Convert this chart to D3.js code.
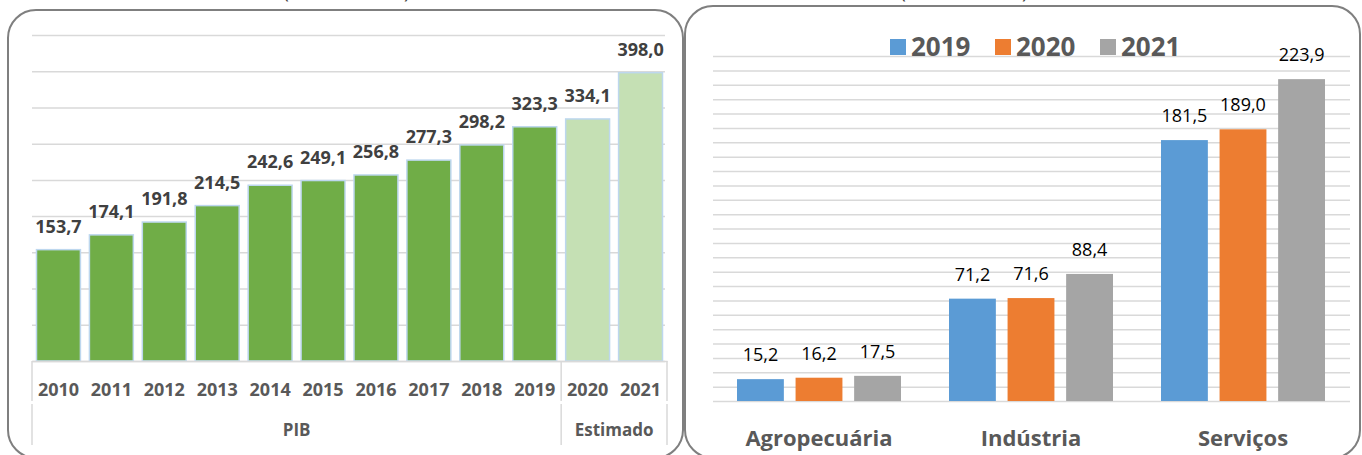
<!DOCTYPE html>
<html>
<head>
<meta charset="utf-8">
<style>
body { margin: 0; background: #fff; }
svg { display: block; font-family: "Open Sans", sans-serif; }
.grid line { stroke: #d9d9d9; stroke-width: 1.5; }
.grid .domain { display: none; }
</style>
</head>
<body>
<svg width="1362" height="455"></svg>
<script src="https://cdnjs.cloudflare.com/ajax/libs/d3/7.8.5/d3.min.js"></script>
<script>
// left chart: PIB by year
var years = ["2010", "2011", "2012", "2013", "2014", "2015", "2016", "2017", "2018", "2019", "2020", "2021"];
var pib = [153.7, 174.1, 191.8, 214.5, 242.6, 249.1, 256.8, 277.3, 298.2, 323.3, 334.1, 398.0];
var yearGroup = ["PIB", "PIB", "PIB", "PIB", "PIB", "PIB", "PIB", "PIB", "PIB", "PIB", "Estimado", "Estimado"];
var leftTicks = [0, 50, 100, 150, 200, 250, 300, 350, 400, 450];

// right chart: value added by sector
var sectors = ["Agropecuária", "Indústria", "Serviços"];
var series = ["2019", "2020", "2021"];
var vab2019 = [15.2, 71.2, 181.5];
var vab2020 = [16.2, 71.6, 189.0];
var vab2021 = [17.5, 88.4, 223.9];
var rightTicks = d3.range(0, 241, 10);

var fmt = function(v) { return d3.format(".1f")(v).replace(".", ","); };

var svg = d3.select("svg");

// panel frames
svg.append("rect").attr("x", 8).attr("y", 10).attr("width", 675).attr("height", 448)
  .attr("rx", 28).attr("fill", "none").attr("stroke", "#7f7f7f").attr("stroke-width", 2);
svg.append("rect").attr("x", 685).attr("y", 6).attr("width", 675).attr("height", 452)
  .attr("rx", 28).attr("fill", "none").attr("stroke", "#7f7f7f").attr("stroke-width", 2);

// titles, cut off above the picture (only the brackets peek in)
svg.append("text").attr("x", 283).attr("y", -2.5).attr("font-size", 20)
  .attr("textLength", 127).attr("lengthAdjust", "spacing").attr("fill", "#404040")
  .text("(R$ bilhões)");
svg.append("text").attr("x", 900).attr("y", -2.5).attr("font-size", 20)
  .attr("textLength", 128).attr("lengthAdjust", "spacing").attr("fill", "#404040")
  .text("(R$ bilhões)");

// ---------- left chart ----------
var xL = d3.scaleBand().domain(years).range([32, 667]).paddingInner(0.17).paddingOuter(0.085);
var yL = d3.scaleLinear().domain([0, 450]).range([361, 35]);

svg.append("g")
  .attr("class", "grid")
  .attr("transform", "translate(32,0)")
  .call(d3.axisLeft(yL).tickValues(leftTicks).tickSize(-633).tickFormat(""));

svg.append("g").selectAll("rect")
  .data(pib)
  .enter().append("rect")
    .attr("x", function(d, i) { return xL(years[i]); })
    .attr("y", function(d) { return yL(d); })
    .attr("width", xL.bandwidth())
    .attr("height", function(d) { return yL(0) - yL(d); })
    .attr("fill", function(d, i) { return yearGroup[i] == "PIB" ? "#70ad47" : "#c5e0b4"; })
    .attr("stroke", "#bdd7ee")
    .attr("stroke-width", 1.5);

svg.append("g").selectAll("text")
  .data(pib)
  .enter().append("text")
    .attr("x", function(d, i) { return xL(years[i]) + xL.bandwidth() / 2; })
    .attr("y", function(d) { return yL(d) - 17; })
    .attr("text-anchor", "middle")
    .attr("font-size", 18)
    .attr("font-weight", "bold")
    .attr("fill", "#404040")
    .text(fmt);

// category axis (years + groups)
var xAxis = svg.append("g")
  .attr("transform", "translate(0,361)")
  .call(d3.axisBottom(xL).tickSize(0));
xAxis.select(".domain").attr("stroke", "#d9d9d9").attr("stroke-width", 1.5);
xAxis.selectAll("text")
  .attr("y", 35).attr("dy", null)
  .attr("font-family", "Open Sans").attr("font-size", 18)
  .attr("font-weight", "bold").attr("fill", "#595959");

var gap = (xL.step() - xL.bandwidth()) / 2;
var groupNames = [];
var groupStart = {};
var groupEnd = {};
years.forEach(function(y, i) {
  var g = yearGroup[i];
  if (groupNames.indexOf(g) < 0) { groupNames.push(g); groupStart[g] = xL(y) - gap; }
  groupEnd[g] = xL(y) + xL.bandwidth() + gap;
});
groupStart[groupNames[0]] = xL.range()[0];
groupEnd[groupNames[groupNames.length - 1]] = xL.range()[1];

var bounds = groupNames.map(function(g) { return groupStart[g]; }).concat([xL.range()[1]]);
var sepG = svg.append("g").attr("stroke", "#d9d9d9").attr("stroke-width", 1.5);
bounds.forEach(function(bx) {
  sepG.append("line").attr("x1", bx).attr("x2", bx).attr("y1", 361).attr("y2", 401);
  sepG.append("line").attr("x1", bx).attr("x2", bx).attr("y1", 404).attr("y2", 445);
});

svg.append("g").selectAll("text")
  .data(groupNames)
  .enter().append("text")
    .attr("x", function(g) { return (groupStart[g] + groupEnd[g]) / 2; })
    .attr("y", 436)
    .attr("text-anchor", "middle")
    .attr("font-size", 17)
    .attr("font-weight", "bold")
    .attr("fill", "#595959")
    .text(function(g) { return g; });

// ---------- right chart ----------
var x0 = d3.scaleBand().domain(sectors).range([713, 1349]);
var x1 = d3.scaleBand().domain(series).range([24, 188]).paddingInner(0.2);
var yR = d3.scaleLinear().domain([0, 240]).range([401, 56]);
var z = d3.scaleOrdinal().domain(series).range(["#5b9bd5", "#ed7d31", "#a5a5a5"]);

svg.append("g")
  .attr("class", "grid")
  .attr("transform", "translate(713,0)")
  .call(d3.axisLeft(yR).tickValues(rightTicks).tickSize(-637).tickFormat(""));

var vab = [vab2019, vab2020, vab2021];
var rows = sectors.map(function(s, i) {
  return series.map(function(k, j) { return {sector: s, key: k, value: vab[j][i]}; });
});

var grp = svg.append("g").selectAll("g")
  .data(rows)
  .enter().append("g")
    .attr("transform", function(d, i) { return "translate(" + x0(sectors[i]) + ",0)"; });

grp.selectAll("rect")
  .data(function(d) { return d; })
  .enter().append("rect")
    .attr("x", function(d) { return x1(d.key); })
    .attr("y", function(d) { return yR(d.value); })
    .attr("width", x1.bandwidth())
    .attr("height", function(d) { return yR(0) - yR(d.value); })
    .attr("fill", function(d) { return z(d.key); });

grp.selectAll("text")
  .data(function(d) { return d; })
  .enter().append("text")
    .attr("x", function(d) { return x1(d.key) + x1.bandwidth() / 2; })
    .attr("y", function(d) { return yR(d.value) - 18; })
    .attr("text-anchor", "middle")
    .attr("font-size", 18)
    .attr("fill", "#000")
    .text(function(d) { return fmt(d.value); });

svg.append("g").selectAll("text")
  .data(sectors)
  .enter().append("text")
    .attr("x", function(d) { return x0(d) + x0.bandwidth() / 2; })
    .attr("y", 446)
    .attr("text-anchor", "middle")
    .attr("font-size", 22)
    .attr("font-weight", "bold")
    .attr("fill", "#595959")
    .text(function(d) { return d; });

// legend
var legend = svg.append("g").selectAll("g")
  .data(series)
  .enter().append("g")
    .attr("transform", function(d, i) { return "translate(" + (890 + i * 105) + ",39)"; });
legend.append("rect").attr("width", 16).attr("height", 16).attr("fill", z);
legend.append("text")
  .attr("x", 21).attr("y", 16.5)
  .attr("font-size", 26).attr("font-weight", "bold").attr("fill", "#595959")
  .text(function(d) { return d; });
</script>
</body>
</html>
